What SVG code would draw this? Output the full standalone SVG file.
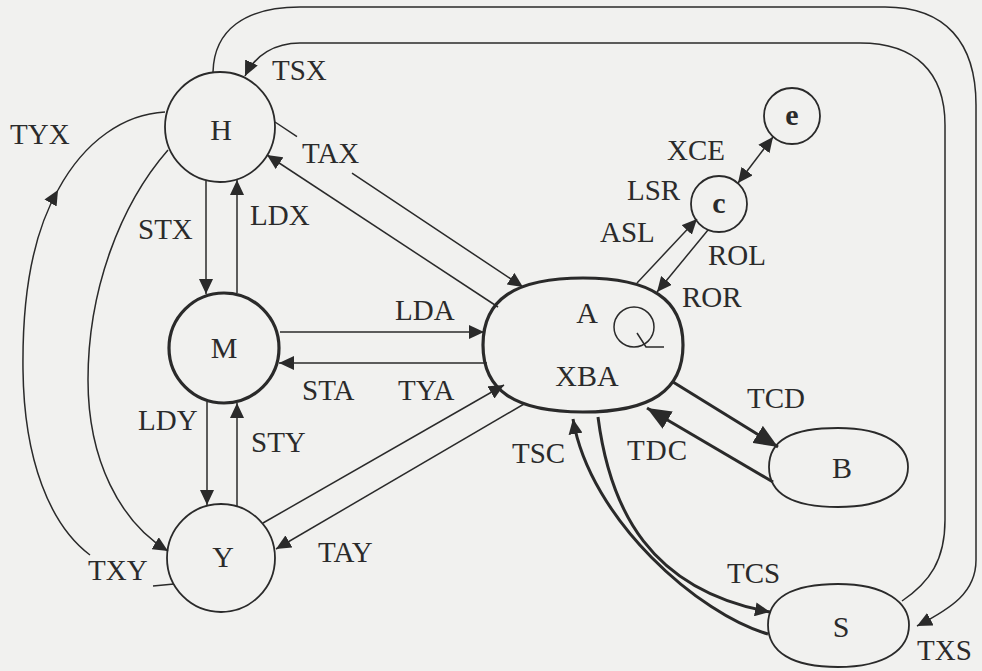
<svg xmlns="http://www.w3.org/2000/svg" width="982" height="671" viewBox="0 0 982 671">
  <style>
    .bg { fill: #f1f1ef; }
    .node { fill: none; stroke: #2a2a2a; stroke-width: 1.8; }
    .node.heavy { stroke-width: 3.2; }
    .edge { fill: none; stroke: #2a2a2a; stroke-width: 1.5; }
    .edge.heavy { stroke-width: 3; }
    .lbl { font-family: "Liberation Serif", "Times New Roman", serif; font-size: 29px; fill: #2b2b2b; }
    .name { font-family: "Liberation Serif", "Times New Roman", serif; font-size: 30px; fill: #2b2b2b; text-anchor: middle; }
    .name.small { font-weight: bold; }
  </style>
  <defs>
    <marker id="arr" viewBox="0 0 15 14" refX="15" refY="7" markerWidth="15" markerHeight="14" orient="auto-start-reverse" markerUnits="userSpaceOnUse">
      <path d="M0,0 L15,7 L0,14 z" fill="#2a2a2a"/>
    </marker>
    <marker id="arrb" viewBox="0 0 24 20" refX="24" refY="10" markerWidth="24" markerHeight="20" orient="auto" markerUnits="userSpaceOnUse">
      <path d="M0,0 L24,10 L0,20 z" fill="#2a2a2a"/>
    </marker>
  </defs>

  <rect class="bg" x="0" y="0" width="982" height="671"/>

  <!-- nodes -->
  <g id="node-H">
    <circle class="node" cx="220" cy="127" r="55"/>
    <text class="name" x="221" y="140">H</text>
  </g>
  <g id="node-M">
    <circle class="node heavy" cx="224" cy="348" r="55"/>
    <text class="name" x="224" y="358">M</text>
  </g>
  <g id="node-Y">
    <circle class="node" cx="221" cy="558" r="54"/>
    <text class="name" x="223" y="567">Y</text>
  </g>
  <g id="node-A">
    <path class="node heavy" d="M483,345 C483,299.4 515,278 583,278 C651,278 683,299.4 683,345 C683,390.6 651,412 583,412 C515,412 483,390.6 483,345 Z"/>
    <text class="name" x="587" y="323">A</text>
    <text class="name" x="587" y="386">XBA</text>
    <!-- internal self-loop -->
    <circle class="edge" cx="634" cy="327" r="20"/>
    <path class="edge" d="M637,333 L646,347 L664,347"/>
  </g>
  <g id="node-c">
    <circle class="node" cx="719" cy="204" r="28"/>
    <text class="name small" x="719" y="213">c</text>
  </g>
  <g id="node-e">
    <circle class="node" cx="792" cy="116" r="28"/>
    <text class="name small" x="792" y="125">e</text>
  </g>
  <g id="node-B">
    <path class="node" d="M769,467 C769,440 792,428 838,428 C886,428 908,446 908,467 C908,490 886,507 838,507 C792,507 769,494 769,467 Z"/>
    <text class="name" x="842" y="478">B</text>
  </g>
  <g id="node-S">
    <path class="node" d="M768,625 C768,598 792,584 838,584 C886,584 909,603 909,625 C909,649 886,667 838,667 C792,667 768,652 768,625 Z"/>
    <text class="name" x="841" y="637">S</text>
  </g>

  <!-- connectors -->
  <g id="connectors">
    <!-- H to S, outer loop -->
    <path class="edge" marker-end="url(#arr)" d="M213,72 C214,30 245,7 300,7 L885,7 C945,7 976,42 976,105 L976,560 C976,592 952,608 917,626"/>
    <!-- S to H, inner loop -->
    <path class="edge" marker-end="url(#arr)" d="M902,601 C930,582 945,560 945,520 L945,125 C945,72 915,43 860,43 L300,43 C275,43 255,55 245,76"/>
    <!-- Y to H, far left -->
    <path class="edge" marker-end="url(#arr)" d="M90,555 C50,525 24,460 23,370 C22,290 35,230 58,190"/>
    <path class="edge" d="M58,190 C85,140 125,114 165,112"/>
    <path class="edge" d="M153,586 L174,584"/>
    <!-- H to Y -->
    <path class="edge" marker-end="url(#arr)" d="M168,150 C120,205 88,290 88,380 C88,460 120,522 168,551"/>
    <!-- H / M / Y verticals -->
    <path class="edge" marker-end="url(#arr)" d="M206,181 L206,294"/>
    <path class="edge" marker-end="url(#arr)" d="M237,293 L237,180"/>
    <path class="edge" marker-end="url(#arr)" d="M207,402 L207,505"/>
    <path class="edge" marker-end="url(#arr)" d="M237,506 L237,403"/>
    <!-- M and A -->
    <path class="edge" marker-end="url(#arr)" d="M280,332 L484,332"/>
    <path class="edge" marker-end="url(#arr)" d="M487,363 L279,363"/>
    <!-- Y and A -->
    <path class="edge" marker-end="url(#arr)" d="M263,523 L504,385"/>
    <path class="edge" marker-end="url(#arr)" d="M524,404 L276,549"/>
    <!-- H and A -->
    <path class="edge" marker-end="url(#arr)" d="M275,122 L297,136.6 M352,173.2 L523,287"/>
    <path class="edge" marker-end="url(#arr)" d="M498,307 L267,155"/>
    <!-- A and c, c and e -->
    <path class="edge" marker-end="url(#arr)" d="M637,283 L697,219"/>
    <path class="edge" marker-end="url(#arr)" d="M708,230 L657,292"/>
    <path class="edge" marker-start="url(#arr)" marker-end="url(#arr)" d="M738,183 L773,137"/>
    <!-- A and B -->
    <path class="edge heavy" marker-end="url(#arrb)" d="M673,382 L778,447"/>
    <path class="edge heavy" marker-end="url(#arrb)" d="M773,482 L647,408"/>
    <!-- A and S -->
    <path class="edge heavy" marker-end="url(#arr)" d="M598,417 C610,510 650,590 770,612"/>
    <path class="edge heavy" marker-end="url(#arr)" d="M768,634 C700,615 590,520 573,419"/>
  </g>

  <!-- connector labels -->
  <g id="labels">
    <text class="lbl" x="272" y="80">TSX</text>
    <text class="lbl" x="10" y="144">TYX</text>
    <text class="lbl" x="302" y="163">TAX</text>
    <text class="lbl" x="138" y="239">STX</text>
    <text class="lbl" x="250" y="225">LDX</text>
    <text class="lbl" x="395" y="320">LDA</text>
    <text class="lbl" x="302" y="400">STA</text>
    <text class="lbl" x="398" y="400">TYA</text>
    <text class="lbl" x="138" y="430">LDY</text>
    <text class="lbl" x="251" y="452">STY</text>
    <text class="lbl" x="88" y="580">TXY</text>
    <text class="lbl" x="318" y="562">TAY</text>
    <text class="lbl" x="667" y="160">XCE</text>
    <text class="lbl" x="627" y="200">LSR</text>
    <text class="lbl" x="600" y="242">ASL</text>
    <text class="lbl" x="708" y="265">ROL</text>
    <text class="lbl" x="682" y="307">ROR</text>
    <text class="lbl" x="747" y="408">TCD</text>
    <text class="lbl" x="627" y="460" letter-spacing="1">TDC</text>
    <text class="lbl" x="512" y="463">TSC</text>
    <text class="lbl" x="727" y="583">TCS</text>
    <text class="lbl" x="917" y="660">TXS</text>
  </g>
</svg>
